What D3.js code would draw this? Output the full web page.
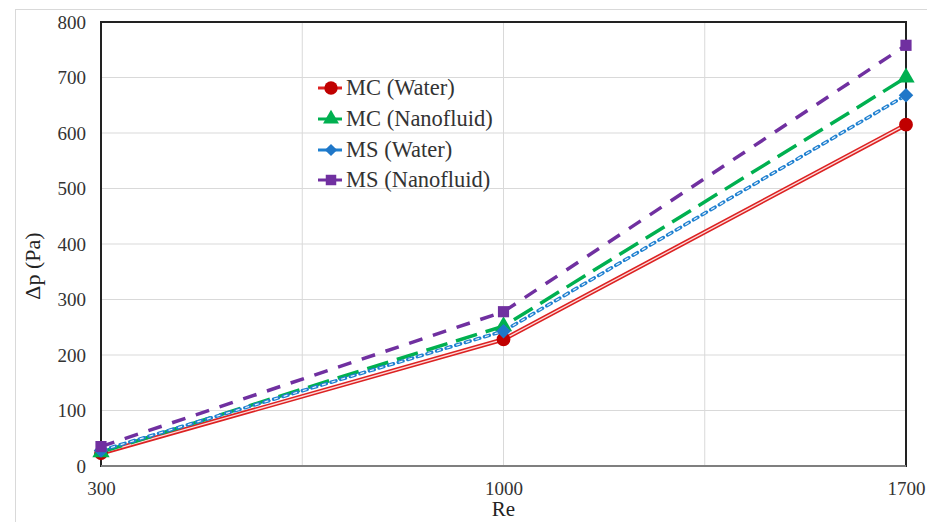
<!DOCTYPE html>
<html><head><meta charset="utf-8">
<script src="https://cdn.jsdelivr.net/npm/d3@7"></script>
<style>body{margin:0;background:#fff}svg{display:block}</style>
</head><body>
<svg id="c" width="927" height="522"></svg>
<script>
const reValues = [300, 1000, 1700];
const xTicks = [300, 1000, 1700];
const xGrid = [300, 650, 1000, 1350, 1700];
const yTicks = [0, 100, 200, 300, 400, 500, 600, 700, 800];
const seriesNames = ["MC (Water)", "MC (Nanofluid)", "MS (Water)", "MS (Nanofluid)"];
const mcWater = [23, 228, 615];
const mcNano = [25, 252, 700];
const msWater = [28, 243, 668];
const msNano = [35, 278, 758];

const svg = d3.select("#c");
const M = {l:101, r:906, t:22, b:466};
const x = d3.scaleLinear().domain([300,1700]).range([M.l, M.r]);
const y = d3.scaleLinear().domain([0,800]).range([M.b, M.t]);
const font = "Liberation Serif";

// outer frame
svg.append("rect").attr("x",15.5).attr("y",9.5).attr("width",930).attr("height",530)
  .attr("fill","none").attr("stroke","#d9d9d9").attr("stroke-width",1);

// grid
svg.append("g").selectAll("line").data(yTicks).join("line")
  .attr("x1",M.l).attr("x2",M.r).attr("y1",d=>y(d)).attr("y2",d=>y(d))
  .attr("stroke","#d9d9d9").attr("stroke-width",1);
svg.append("g").selectAll("line").data(xGrid).join("line")
  .attr("y1",M.t).attr("y2",M.b).attr("x1",d=>x(d)).attr("x2",d=>x(d))
  .attr("stroke","#d9d9d9").attr("stroke-width",1);

// plot border
svg.append("rect").attr("x",M.l).attr("y",M.t).attr("width",M.r-M.l).attr("height",M.b-M.t)
  .attr("fill","none").attr("stroke","#222").attr("stroke-width",2);
svg.append("line").attr("x1",M.l).attr("x2",M.r).attr("y1",M.b).attr("y2",M.b)
  .attr("stroke","#7f7f7f").attr("stroke-width",2);

// axes labels via d3 axes
const yAx = svg.append("g").attr("transform",`translate(${M.l-15},0)`)
  .call(d3.axisLeft(y).tickValues(yTicks).tickSize(0).tickPadding(0));
yAx.attr("font-family",font).attr("font-size",19);
yAx.select(".domain").remove();
yAx.selectAll("text").attr("fill","#333").attr("dy","0.34em");
const xAx = svg.append("g").attr("transform",`translate(0,${M.b+15})`)
  .call(d3.axisBottom(x).tickValues(xTicks).tickSize(0).tickPadding(0).tickFormat(d3.format("d")));
xAx.attr("font-family",font).attr("font-size",19);
xAx.select(".domain").remove();
xAx.selectAll("text").attr("fill","#333");

svg.append("text").attr("x",(M.l+M.r)/2).attr("y",516).attr("text-anchor","middle")
  .attr("font-family",font).attr("font-size",21).attr("fill","#222").text("Re");
svg.append("text").attr("transform","translate(40,266) rotate(-90)").attr("text-anchor","middle")
  .attr("font-family",font).attr("font-size",22).attr("fill","#222").text("Δp (Pa)");

const line = d3.line().x((d,i)=>x(reValues[i])).y(d=>y(d));
const g = svg.append("g");

// MC Water: red double line
g.append("path").datum(mcWater).attr("d",line).attr("fill","none").attr("stroke","#d22").attr("stroke-width",4.5);
g.append("path").datum(mcWater).attr("d",line).attr("fill","none").attr("stroke","#fbdcdc").attr("stroke-width",1.3);
// MC Nano: green long dash
g.append("path").datum(mcNano).attr("d",line).attr("fill","none").attr("stroke","#00b050").attr("stroke-width",3.5)
  .attr("stroke-dasharray","22,9");
// MS Water: blue round dots with white centers
g.append("path").datum(msWater).attr("d",line).attr("fill","none").attr("stroke","#1f80d0").attr("stroke-width",3.5)
  .attr("stroke-dasharray","5,5").attr("stroke-linecap","round");
g.append("path").datum(msWater).attr("d",line).attr("fill","none").attr("stroke","#eaf2fb").attr("stroke-width",1.2)
  .attr("stroke-dasharray","4,6").attr("stroke-dashoffset","-0.5");
// MS Nano: purple dash
g.append("path").datum(msNano).attr("d",line).attr("fill","none").attr("stroke","#7030a0").attr("stroke-width",3.5)
  .attr("stroke-dasharray","14,11");

// markers
const sym = (type,size)=>d3.symbol().type(type).size(size)();
function markers(data,type,size,color,rot){
  g.append("g").selectAll("path").data(data).join("path")
    .attr("transform",(d,i)=>`translate(${x(reValues[i])},${y(d)}) rotate(${rot||0})`)
    .attr("d",sym(type,size)).attr("fill",color);
}
markers(mcWater,d3.symbolCircle,150,"#c00000");
markers(mcNano,d3.symbolTriangle,130,"#00b050");
markers(msWater,d3.symbolSquare,105,"#1f77c8",45);
markers(msNano,d3.symbolSquare,125,"#7030a0");

// legend
const leg = svg.append("g");
const legY = [88,119,150,180];
const legColors = ["#c00000","#00b050","#1f77c8","#7030a0"];
const legLine = ["#d22","#00b050","#1f80d0","#7030a0"];
const legSym = [[d3.symbolCircle,140,0],[d3.symbolTriangle,110,0],[d3.symbolSquare,75,45],[d3.symbolSquare,110,0]];
seriesNames.forEach((n,i)=>{
  leg.append("line").attr("x1",318).attr("x2",342).attr("y1",legY[i]).attr("y2",legY[i])
    .attr("stroke",legLine[i]).attr("stroke-width",3);
  leg.append("path").attr("transform",`translate(331,${legY[i]}) rotate(${legSym[i][2]})`)
    .attr("d",sym(legSym[i][0],legSym[i][1])).attr("fill",legColors[i]);
  leg.append("text").attr("x",346).attr("y",legY[i]+7).attr("font-family",font).attr("font-size",22.5)
    .attr("fill","#333").text(n);
});
</script>
</body></html>
